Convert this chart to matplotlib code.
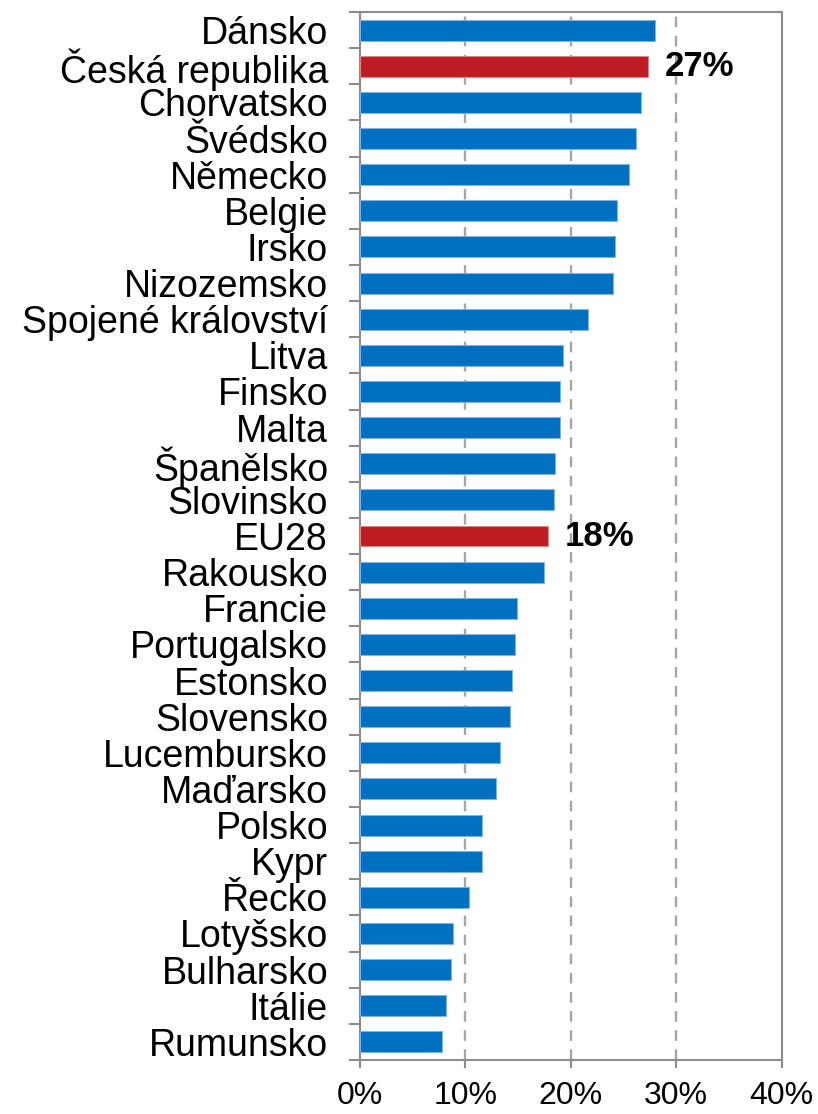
import matplotlib
matplotlib.use("Agg")
import matplotlib.pyplot as plt
from matplotlib.ticker import FixedLocator, PercentFormatter
import numpy as np

plt.rcParams['font.family'] = ['Liberation Sans', 'DejaVu Sans']

countries = ["Dánsko", "Česká republika", "Chorvatsko", "Švédsko", "Německo", "Belgie",
             "Irsko", "Nizozemsko", "Spojené království", "Litva", "Finsko", "Malta",
             "Španělsko", "Slovinsko", "EU28", "Rakousko", "Francie", "Portugalsko",
             "Estonsko", "Slovensko", "Lucembursko", "Maďarsko", "Polsko", "Kypr",
             "Řecko", "Lotyšsko", "Bulharsko", "Itálie", "Rumunsko"]
values = [28.0, 27.3, 26.7, 26.2, 25.5, 24.4, 24.2, 24.0, 21.6, 19.3, 19.0, 18.95,
          18.45, 18.4, 17.8, 17.45, 14.9, 14.7, 14.4, 14.2, 13.3, 12.9, 11.6, 11.55,
          10.35, 8.85, 8.6, 8.2, 7.8]
highlight = {"Česká republika": "27%", "EU28": "18%"}
xticks = [0, 10, 20, 30, 40]

blue = "#0070C0"
red = "#BE1B23"
spine_c = "#8C8C8C"
FS_Y = 27
FS_X = 23
FS_ANN = 25

fig = plt.figure(figsize=(8.18, 11.14), dpi=100)
ax = fig.add_axes([0.4401, 0.0485, 0.5155, 0.9407])

y = np.arange(len(countries))
colors = [red if c in highlight else blue for c in countries]
edges = ["#D9888C" if c in highlight else "#7FB4DE" for c in countries]
ax.barh(y, values, height=0.58, color=colors, edgecolor=edges, linewidth=0.8, zorder=3)

for yi, c, v in zip(y, countries, values):
    if c in highlight:
        ax.text(v + 1.6, yi, highlight[c], va='center', ha='left',
                fontsize=FS_ANN, fontweight='bold', color='black', zorder=4)

ax.set_xlim(0, 40)
ax.set_ylim(len(countries) - 0.5, -0.5)

ax.set_xticks(xticks)
ax.xaxis.set_major_formatter(PercentFormatter(decimals=0))
ax.set_yticks(y)
ax.set_yticklabels(countries)
ax.yaxis.set_minor_locator(FixedLocator(np.arange(-0.5, len(countries), 1.0)))

ax.tick_params(axis='y', which='major', length=0, pad=23, labelsize=FS_Y)
ax.tick_params(axis='y', which='minor', length=8, width=1.5, color=spine_c, direction='out')
ax.tick_params(axis='x', which='major', length=6, width=1.5, color=spine_c,
               direction='out', pad=9, labelsize=FS_X)

for s in ax.spines.values():
    s.set_color(spine_c)
    s.set_linewidth(1.5)

for xv in xticks[1:-1]:
    ax.axvline(xv, color="#A6A6A6", linestyle=(0, (4.5, 3.6)), linewidth=1.7, zorder=1)

fig.savefig("out.png", dpi=100)
